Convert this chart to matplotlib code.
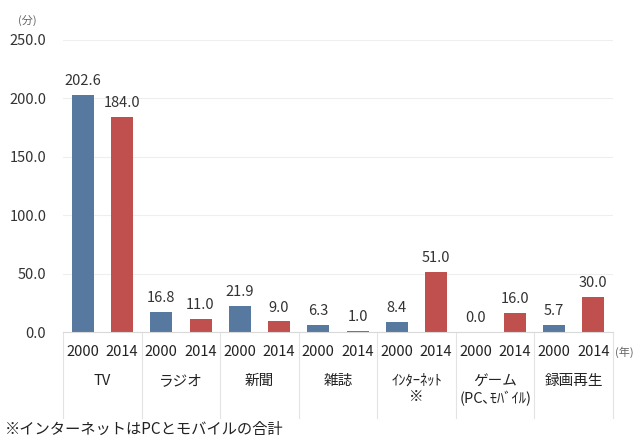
import matplotlib
matplotlib.use("Agg")
import matplotlib.pyplot as plt
import matplotlib.transforms as mtransforms
import numpy as np

plt.rcParams["font.family"] = ["Noto Sans CJK JP", "DejaVu Sans"]

categories = ["TV", "ラジオ", "新聞", "雑誌", "ｲﾝﾀｰﾈｯﾄ\n※", "ゲーム\n(PC､ﾓﾊﾞｲﾙ)", "録画再生"]
years = ["2000", "2014"]
values_2000 = [202.6, 16.8, 21.9, 6.3, 8.4, 0.0, 5.7]
values_2014 = [184.0, 11.0, 9.0, 1.0, 51.0, 16.0, 30.0]
y_ticks = [0, 50, 100, 150, 200, 250]

BLUE = "#57789F"
RED = "#C0504D"
TEXT = "#333333"

fig = plt.figure(figsize=(6.33, 4.40), dpi=100)
ax = fig.add_axes([63 / 633, 108 / 440, 550 / 633, 292 / 440])

n = len(categories)
x = np.arange(n)
width = 0.28
ax.bar(x + 0.25, values_2000, width, color=BLUE, zorder=2)
ax.bar(x + 0.75, values_2014, width, color=RED, zorder=2)

for xs, vals in ((x + 0.25, values_2000), (x + 0.75, values_2014)):
    for xi, v in zip(xs, vals):
        ax.annotate(f"{v:.1f}", (xi, v), xytext=(0, 5), textcoords="offset points",
                    ha="center", va="bottom", fontsize=10.5, color=TEXT)

ax.set_xlim(0, n)
ax.set_ylim(0, 250)
ax.set_yticks(y_ticks)
ax.set_yticklabels([f"{t:.1f}" for t in y_ticks], fontsize=10.5, color=TEXT)
ax.set_xticks([])
ax.tick_params(axis="y", length=0, pad=12)
ax.grid(axis="y", color="#EEEEEE", linewidth=0.8, zorder=0)
for side in ("top", "right", "left"):
    ax.spines[side].set_visible(False)
ax.spines["bottom"].set_color("#D9D9D9")

# year and category labels below the axis
trans = mtransforms.blended_transform_factory(ax.transData, fig.transFigure)
for i in range(n):
    ax.text(i + 0.25, 1 - 352 / 440, years[0], transform=trans, ha="center", va="center",
            fontsize=10.5, color="#222222")
    ax.text(i + 0.75, 1 - 352 / 440, years[1], transform=trans, ha="center", va="center",
            fontsize=10.5, color="#222222")
    ax.text(i + 0.5, 1 - 374 / 440, categories[i], transform=trans, ha="center", va="top",
            fontsize=10.5, color="#222222", linespacing=1.2)

for i in range(n + 1):
    ax.plot([i, i], [1 - 332 / 440, 1 - 418 / 440], transform=trans, color="#E3E3E3",
            linewidth=0.8, clip_on=False)

fig.text(615 / 633, 1 - 352 / 440, "(年)", ha="left", va="center", fontsize=8, color="#666666")
fig.text(18 / 633, 1 - 20 / 440, "(分)", ha="left", va="center", fontsize=8, color="#666666")
fig.text(5 / 633, 1 - 429 / 440, "※インターネットはPCとモバイルの合計", ha="left", va="center",
         fontsize=11, color="#222222")

fig.savefig("out.png", dpi=100)
